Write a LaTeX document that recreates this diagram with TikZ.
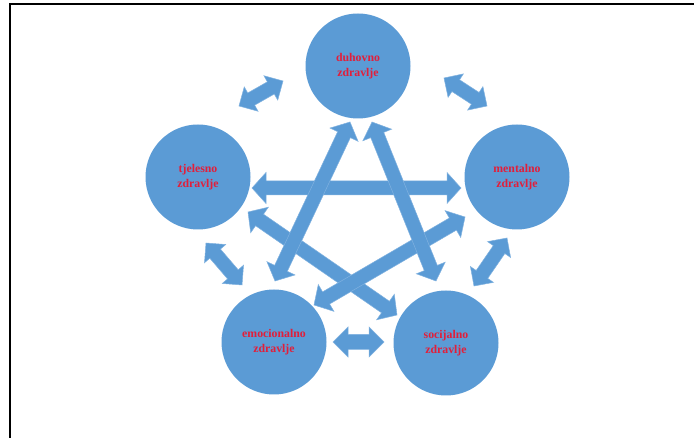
\documentclass[tikz,border=0pt]{standalone}
\usepackage{fontspec}
\setmainfont{Liberation Serif}
\usetikzlibrary{calc}
\definecolor{fillblue}{RGB}{91,155,213}
\definecolor{edgeblue}{RGB}{128,178,224}
\definecolor{txtred}{RGB}{226,30,58}
\tikzset{
  circ/.style={circle, fill=fillblue, minimum size=105pt, inner sep=0pt, align=center,
    font=\fontsize{11.8}{15.5}\selectfont\bfseries, text=txtred},
  arr/.style={fill=fillblue, draw=edgeblue, line width=0.5pt, line join=miter},
  frame/.style={line width=2pt, black}
}
\newcommand{\blockarrow}[5]{%
  \coordinate (baHa) at ($(#1)!#3!(#2)$);
  \coordinate (baHb) at ($(#2)!#3!(#1)$);
  \filldraw[arr] (#1) -- ($(baHa)!#4!90:(#2)$) -- ($(baHa)!#5!90:(#2)$)
    -- ($(baHb)!#5!-90:(#1)$) -- ($(baHb)!#4!-90:(#1)$) -- (#2)
    -- ($(baHb)!#4!90:(#1)$) -- ($(baHb)!#5!90:(#1)$)
    -- ($(baHa)!#5!-90:(#2)$) -- ($(baHa)!#4!-90:(#2)$) -- cycle;}
\begin{document}
\begin{tikzpicture}[x=1pt,y=-1pt]
\path[use as bounding box] (0,0) rectangle (694,438);
\fill[white] (0,0) rectangle (694,438);
\draw[frame] (9.5,438) -- (9.5,4) -- (694,4);

% circles
\node[circ] (du) at (358,66) {duhovno\\zdravlje};
\node[circ] (tj) at (198,177) {tjelesno\\zdravlje};
\node[circ] (me) at (517,177) {mentalno\\zdravlje};
\node[circ] (em) at (274,342) {emocionalno\\zdravlje};
\node[circ] (so) at (446,343) {socijalno\\zdravlje};

% arrow end points
\coordinate (dutjA) at (239,106);
\coordinate (dutjB) at (283,81);
\coordinate (dumeA) at (444,78);
\coordinate (dumeB) at (487,106);
\coordinate (tjemA) at (206,243);
\coordinate (tjemB) at (242,285);
\coordinate (mesoA) at (507,238);
\coordinate (mesoB) at (474,286);
\coordinate (emsoA) at (333,342);
\coordinate (emsoB) at (384,342);
\coordinate (tjmeA) at (252,188);
\coordinate (tjmeB) at (461,188);
\coordinate (duemA) at (350,122);
\coordinate (duemB) at (275,281);
\coordinate (dusoA) at (372,122);
\coordinate (dusoB) at (436,281);
\coordinate (tjsoA) at (248,212);
\coordinate (tjsoB) at (397,315);
\coordinate (emmeA) at (314,305);
\coordinate (emmeB) at (465,217);

% short arrows between neighbours
\blockarrow{dutjA}{dutjB}{14pt}{14pt}{7pt}
\blockarrow{dumeA}{dumeB}{14pt}{14pt}{7pt}
\blockarrow{tjemA}{tjemB}{14pt}{14pt}{7pt}
\blockarrow{mesoA}{mesoB}{14pt}{14pt}{7pt}
\blockarrow{emsoA}{emsoB}{15pt}{15pt}{7.5pt}

% long arrows (star)
\blockarrow{tjmeA}{tjmeB}{14pt}{15.5pt}{7pt}
\blockarrow{tjsoA}{tjsoB}{14pt}{15.5pt}{7pt}
\blockarrow{emmeA}{emmeB}{14pt}{15.5pt}{7pt}
\blockarrow{duemA}{duemB}{14pt}{15.5pt}{7pt}
\blockarrow{dusoA}{dusoB}{14pt}{15.5pt}{7pt}
\end{tikzpicture}
\end{document}
